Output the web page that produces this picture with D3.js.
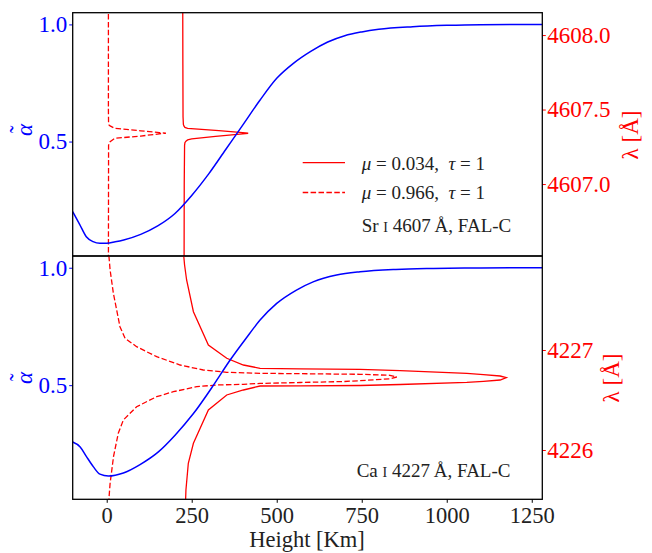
<!DOCTYPE html>
<html>
<head>
<meta charset="utf-8">
<script src="https://cdn.jsdelivr.net/npm/d3@7/dist/d3.min.js"></script>
<style>
  body { margin: 0; background: #fff; }
  svg text { font-family: "Liberation Serif", "Times New Roman", serif !important; }
</style>
</head>
<body>
<svg id="chart" width="652" height="553" font-family="Liberation Serif, serif"></svg>
<script>
// ---- tick values ----
const heightTicks = [0, 250, 500, 750, 1000, 1250];
const alphaTicks = [0.5, 1.0];
const srWaveTicks = [4607.0, 4607.5, 4608.0];
const caWaveTicks = [4226, 4227];

// ---- Sr I 4607: alpha-tilde against height (km) ----
const srAlphaHeight = [-100, -80, -60, -40, -20, 0, 25, 50, 100, 150, 200, 250, 300, 350, 400, 450, 500, 550, 600, 650, 700, 750, 800, 900, 1000, 1100, 1281];
const srAlpha       = [0.201, 0.148, 0.094, 0.073, 0.066, 0.066, 0.072, 0.080, 0.104, 0.140, 0.192, 0.270, 0.362, 0.466, 0.570, 0.675, 0.770, 0.835, 0.885, 0.925, 0.952, 0.968, 0.979, 0.990, 0.996, 0.999, 1.000];

// Sr I: height of tau = 1 against wavelength, mu = 0.034 (near limb)
const srLimbWave   = [4608.3, 4607.8, 4607.45, 4607.40, 4607.39, 4607.38, 4607.374, 4607.358, 4607.345, 4607.341, 4607.337, 4607.32, 4607.303, 4607.296, 4607.288, 4607.278, 4607.26, 4607.0, 4606.4];
const srLimbHeight = [223.5, 224, 224.5, 225.5, 227, 230, 238, 330, 400, 416, 400, 320, 250, 238, 233, 230, 229, 228, 227.5];

// Sr I: mu = 0.966 (disc centre)
const srDiskWave   = [4608.3, 4607.5, 4607.405, 4607.397, 4607.39, 4607.374, 4607.357, 4607.345, 4607.341, 4607.337, 4607.322, 4607.307, 4607.284, 4607.273, 4607.26, 4606.4];
const srDiskHeight = [5, 5, 5.5, 6.5, 10, 24, 100, 155, 174, 155, 100, 24, 10, 6.5, 5.5, 5];

// ---- Ca I 4227: alpha-tilde against height (km) ----
const caAlphaHeight = [-100, -78, -60, -39, -20, 5, 49, 98, 152, 201, 255, 314, 363, 410, 451, 500, 558, 607, 676, 745, 850, 960, 1100, 1281];
const caAlpha       = [0.258, 0.237, 0.197, 0.152, 0.121, 0.113, 0.126, 0.162, 0.216, 0.287, 0.379, 0.500, 0.607, 0.700, 0.777, 0.848, 0.905, 0.940, 0.969, 0.983, 0.993, 0.997, 0.999, 1.000];

// Ca I: mu = 0.034
const caLimbWave   = [4228.1, 4228.0, 4227.85, 4227.7, 4227.383, 4227.05, 4226.917, 4226.85, 4226.817, 4226.812, 4226.807, 4226.793, 4226.767, 4226.753, 4226.74, 4226.723, 4226.70, 4226.687, 4226.677, 4226.655, 4226.645, 4226.642, 4226.64, 4226.60, 4226.55, 4226.40, 4226.067, 4225.867, 4225.6, 4225.4];
const caLimbHeight = [224, 225, 229, 235, 255, 299, 353, 402, 451, 569, 745, 863, 1059, 1108, 1157, 1175, 1157, 1108, 1059, 863, 745, 569, 451, 402, 353, 299, 255, 240, 233, 231];

// Ca I: mu = 0.966
const caDiskWave   = [4228.1, 4228.0, 4227.8, 4227.567, 4227.233, 4227.117, 4227.033, 4226.933, 4226.85, 4226.8, 4226.777, 4226.767, 4226.757, 4226.747, 4226.73, 4226.712, 4226.697, 4226.685, 4226.675, 4226.666, 4226.657, 4226.65, 4226.633, 4226.583, 4226.533, 4226.433, 4226.3, 4226.167, 4225.933, 4225.667, 4225.533, 4225.4];
const caDiskHeight = [4, 5, 10, 19.6, 39, 54, 88, 147, 216, 284, 353, 451, 745, 833, 853, 833, 764, 700, 569, 451, 402, 323, 265, 196, 147, 88, 49, 34, 20, 10, 7, 5];

// ---- layout ----
const SERIF = '"Liberation Serif", "Times New Roman", serif';
const svg = d3.select("#chart");
const left = 72.7, right = 542.3;
const panels = [
  {
    key: "sr", top: 12.7, bottom: 256,
    alphaDomain: [0.0115, 1.05], waveDomain: [4606.517, 4608.150],
    alphaH: srAlphaHeight, alpha: srAlpha,
    limb: [srLimbWave, srLimbHeight], disk: [srDiskWave, srDiskHeight],
    waveTicks: srWaveTicks, waveFmt: d3.format(".1f"),
    alphaLabelY: 130, waveLabelX: 638, waveLabelY: 135
  },
  {
    key: "ca", top: 256, bottom: 499.3,
    alphaDomain: [0.014, 1.05], waveDomain: [4225.507, 4227.94],
    alphaH: caAlphaHeight, alpha: caAlpha,
    limb: [caLimbWave, caLimbHeight], disk: [caDiskWave, caDiskHeight],
    waveTicks: caWaveTicks, waveFmt: d3.format("d"),
    alphaLabelY: 378, waveLabelX: 619, waveLabelY: 378
  }
];

const x = d3.scaleLinear().domain([-100, 1281]).range([left, right]);
const fontSize = 23;

function styleAxisText(sel, color, size) {
  sel.attr("font-family", null).attr("font-size", null);
  sel.selectAll(".tick text")
    .attr("fill", color)
    .style("font-family", SERIF)
    .style("font-size", size + "px");
}

panels.forEach(p => {
  const yA = d3.scaleLinear().domain(p.alphaDomain).range([p.bottom, p.top]);
  const yW = d3.scaleLinear().domain(p.waveDomain).range([p.bottom, p.top]);

  const clipId = "clip-" + p.key;
  svg.append("clipPath").attr("id", clipId)
    .append("rect").attr("x", left).attr("y", p.top)
    .attr("width", right - left).attr("height", p.bottom - p.top);

  const g = svg.append("g").attr("clip-path", `url(#${clipId})`);

  // red: height of tau = 1 as a function of wavelength
  const waveLine = d3.line().x(d => x(d[1])).y(d => yW(d[0]));
  g.append("path")
    .datum(d3.zip(p.limb[0], p.limb[1]))
    .attr("d", waveLine)
    .attr("fill", "none").attr("stroke", "#ff0000").attr("stroke-width", 1.3);
  g.append("path")
    .datum(d3.zip(p.disk[0], p.disk[1]))
    .attr("d", waveLine)
    .attr("fill", "none").attr("stroke", "#ff0000").attr("stroke-width", 1.3)
    .attr("stroke-dasharray", "5.5,2.4");

  // blue: alpha-tilde
  const alphaLine = d3.line().x(d => x(d[0])).y(d => yA(d[1])).curve(d3.curveMonotoneX);
  g.append("path")
    .datum(d3.zip(p.alphaH, p.alpha))
    .attr("d", alphaLine)
    .attr("fill", "none").attr("stroke", "#0000ff").attr("stroke-width", 1.5);

  // left axis (alpha-tilde)
  const axL = svg.append("g").attr("transform", `translate(${left},0)`)
    .call(d3.axisLeft(yA).tickValues(alphaTicks).tickFormat(d3.format(".1f"))
      .tickSize(3.5).tickPadding(2));
  axL.select(".domain").remove();
  axL.selectAll(".tick line").attr("stroke", "#0000ff").attr("stroke-width", 1);
  styleAxisText(axL, "#0000ff", fontSize);

  // right axis (wavelength)
  const axR = svg.append("g").attr("transform", `translate(${right},0)`)
    .call(d3.axisRight(yW).tickValues(p.waveTicks).tickFormat(p.waveFmt)
      .tickSize(3.5).tickPadding(1.5));
  axR.select(".domain").remove();
  axR.selectAll(".tick line").attr("stroke", "#ff0000").attr("stroke-width", 1);
  styleAxisText(axR, "#ff0000", fontSize);

  // left title: alpha with a tilde accent, reading upwards
  const aT = svg.append("g")
    .attr("transform", `translate(31.5,${p.alphaLabelY}) rotate(-90)`);
  aT.append("text")
    .attr("text-anchor", "middle").attr("fill", "#0000ff")
    .style("font-family", SERIF)
    .style("font-size", fontSize + "px").style("font-style", "italic")
    .text("\u03B1");
  aT.append("text")
    .attr("x", 0.5).attr("y", -6)
    .attr("text-anchor", "middle").attr("fill", "#0000ff")
    .style("font-family", SERIF)
    .style("font-size", fontSize + "px")
    .text("\u02DC");

  // right title: wavelength
  svg.append("text")
    .attr("transform", `translate(${p.waveLabelX},${p.waveLabelY}) rotate(-90)`)
    .attr("text-anchor", "middle").attr("fill", "#ff0000")
    .style("font-family", SERIF)
    .style("font-size", fontSize + "px")
    .text("\u03BB [\u00C5]");

  // frame
  svg.append("rect")
    .attr("x", left).attr("y", p.top)
    .attr("width", right - left).attr("height", p.bottom - p.top)
    .attr("fill", "none").attr("stroke", "#000").attr("stroke-width", 1.3);
});

// bottom x axis (height)
const axB = svg.append("g").attr("transform", "translate(0,499.3)")
  .call(d3.axisBottom(x).tickValues(heightTicks).tickFormat(d3.format("d"))
    .tickSize(3.5).tickPadding(4));
axB.select(".domain").remove();
axB.selectAll(".tick line").attr("stroke", "#000").attr("stroke-width", 1);
styleAxisText(axB, "#222", 22.5);

svg.append("text")
  .attr("x", 307).attr("y", 547).attr("text-anchor", "middle")
  .attr("fill", "#222")
  .style("font-family", SERIF).style("font-size", "22.5px")
  .text("Height [Km]");

// legend (upper panel)
const legendFont = 19;
const leg = svg.append("g");
const legendRows = [
  { y: 162.7, base: 169.5, dash: null, mu: "0.034" },
  { y: 192.5, base: 199, dash: "5.5,2.4", mu: "0.966" }
];
legendRows.forEach(r => {
  leg.append("line").attr("x1", 302.7).attr("x2", 345).attr("y1", r.y).attr("y2", r.y)
    .attr("stroke", "#ff0000").attr("stroke-width", 1.3)
    .attr("stroke-dasharray", r.dash);
  const t = leg.append("text").attr("x", 361.7).attr("y", r.base)
    .attr("fill", "#222")
    .style("font-family", SERIF).style("font-size", legendFont + "px")
    .style("white-space", "pre");
  t.append("tspan").style("font-style", "italic").text("\u03BC");
  t.append("tspan").text(" = " + r.mu + ",  ");
  t.append("tspan").style("font-style", "italic").text("\u03C4");
  t.append("tspan").text(" = 1");
});

// line identification labels (element, small-capital ionisation stage, wavelength)
function lineLabel(xPos, yPos, element, wave) {
  const t = svg.append("text").attr("x", xPos).attr("y", yPos)
    .attr("fill", "#222")
    .style("font-family", SERIF).style("font-size", legendFont + "px")
    .style("white-space", "pre");
  t.append("tspan").text(element + " ");
  t.append("tspan").style("font-size", "14px").text("I");
  t.append("tspan").text(" " + wave + "\u2009\u00C5, FAL-C");
}
lineLabel(361.7, 231.5, "Sr", "4607");
lineLabel(356.7, 477.3, "Ca", "4227");
</script>
</body>
</html>
